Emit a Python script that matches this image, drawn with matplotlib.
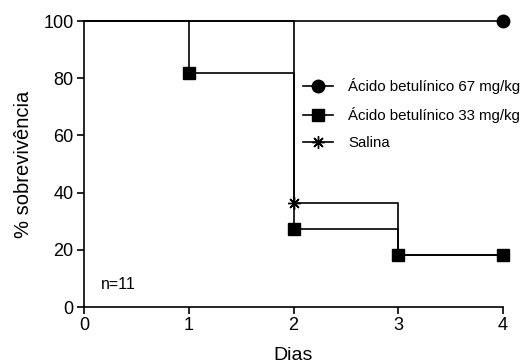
import matplotlib
matplotlib.use("Agg")
import matplotlib.pyplot as plt

plt.rcParams['font.family'] = ['Liberation Sans', 'DejaVu Sans']

# Kaplan-Meier survival (%) per day, n = 11 animals per group
days = [0, 1, 2, 3, 4]
surv_67 = [100, 100, 100, 100, 100]
surv_33 = [100, 81.8, 27.3, 18.2, 18.2]
surv_salina = [100, 100, 36.4, 18.2, 18.2]

labels = ["Ácido betulínico 67 mg/kg", "Ácido betulínico 33 mg/kg", "Salina"]
x_ticks = [0, 1, 2, 3, 4]
y_ticks = [0, 20, 40, 60, 80, 100]

fig = plt.figure(figsize=(5.24, 3.64), dpi=100)
ax = fig.add_axes([84 / 524, 1 - 307 / 364, 419 / 524, 286 / 364])

lw = 1.2
h_sal, = ax.plot(days, surv_salina, drawstyle='steps-post', color='black', lw=lw,
                 marker=(8, 2, 0), markersize=9, markeredgewidth=1.0,
                 markevery=[2, 3, 4], clip_on=False, zorder=3, label=labels[2])
h_33, = ax.plot(days, surv_33, drawstyle='steps-post', color='black', lw=lw,
                marker='s', markersize=8.5, markevery=[1, 2, 3, 4],
                clip_on=False, zorder=4, label=labels[1])
h_67, = ax.plot(days, surv_67, drawstyle='steps-post', color='black', lw=lw,
                marker='o', markersize=9, markevery=[4],
                clip_on=False, zorder=5, label=labels[0])

ax.set_xlim(0, 4)
ax.set_ylim(0, 100)
ax.set_xticks(x_ticks)
ax.set_yticks(y_ticks)
ax.tick_params(direction='out', length=5, width=1.2, labelsize=13, pad=2.5)
for s in ['top', 'right']:
    ax.spines[s].set_visible(False)
for s in ['left', 'bottom']:
    ax.spines[s].set_linewidth(1.2)

ax.set_xlabel("Dias", fontsize=14, labelpad=9)
ax.set_ylabel("% sobrevivência", fontsize=14.5, labelpad=7.5)

ax.text(0.16, 8.0, "n=11", fontsize=11.5, va='center', ha='left')

ax.legend(handles=[h_67, h_33, h_sal], loc='upper left',
          bbox_to_anchor=(298 / 524, 1 - 74 / 364), bbox_transform=fig.transFigure,
          frameon=False, fontsize=10.8, handlelength=2.0, handletextpad=1.05,
          labelspacing=0.85, borderaxespad=0, borderpad=0.3)

fig.savefig("out.png", dpi=100)
